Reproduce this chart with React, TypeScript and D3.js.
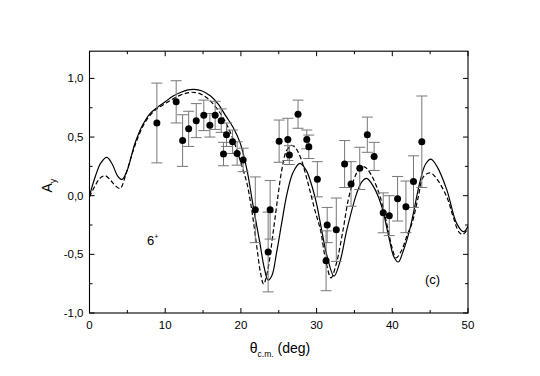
import * as d3 from "d3";
import React from "react";

// measured points
const angles = [8.9, 11.45, 12.3, 13.1, 14.1, 15.1, 15.9, 16.6, 17.4, 17.7, 18.1, 18.9, 19.5, 20.3, 21.9, 23.6, 23.86, 25.05, 26.2, 26.4, 27.55, 28.7, 28.97, 30.1, 31.25, 31.4, 32.6, 33.7, 34.55, 35.7, 36.7, 37.6, 38.8, 39.6, 40.7, 41.8, 42.8, 43.9];
const asym = [0.62, 0.8, 0.47, 0.57, 0.64, 0.685, 0.6, 0.685, 0.64, 0.355, 0.52, 0.46, 0.36, 0.305, -0.12, -0.48, -0.12, 0.465, 0.48, 0.346, 0.695, 0.48, 0.417, 0.14, -0.555, -0.25, -0.29, 0.27, 0.1, 0.233, 0.52, 0.335, -0.146, -0.17, -0.026, -0.095, 0.12, 0.46];
const errs = [0.34, 0.18, 0.22, 0.15, 0.145, 0.13, 0.1, 0.12, 0.1, 0.1, 0.1, 0.1, 0.1, 0.1, 0.28, 0.34, 0.25, 0.18, 0.18, 0.08, 0.12, 0.08, 0.1, 0.15, 0.255, 0.15, 0.27, 0.2, 0.19, 0.18, 0.15, 0.12, 0.17, 0.17, 0.19, 0.22, 0.22, 0.39];

// solid calculation
const solidX = [0, 0.8, 1.5, 2.3, 3.0, 3.7, 4.3, 5.0, 6.0, 7.0, 8.0, 9.0, 10, 11, 12, 13, 13.8, 14.8, 16, 17, 18, 19, 19.9, 20.8, 21.65, 22.5, 23.1, 23.6, 24.1, 24.7, 25.4, 26.1, 26.9, 27.8, 28.6, 29.3, 30.0, 30.6, 31.4, 32.3, 33.1, 34.0, 35.3, 36.0, 36.6, 37.5, 38.6, 39.6, 40.2, 40.8, 41.4, 42.3, 43.7, 44.4, 45.1, 45.9, 47.2, 48.5, 49.4, 50];
const solidY = [0.0, 0.17, 0.28, 0.326, 0.27, 0.17, 0.139, 0.22, 0.445, 0.6, 0.7, 0.755, 0.8, 0.848, 0.88, 0.902, 0.907, 0.895, 0.85, 0.78, 0.68, 0.58, 0.45, 0.22, -0.1, -0.4, -0.62, -0.72, -0.68, -0.49, -0.23, 0.02, 0.2, 0.275, 0.22, 0.1, -0.07, -0.27, -0.52, -0.685, -0.56, -0.29, 0.02, 0.12, 0.147, 0.08, -0.09, -0.37, -0.52, -0.565, -0.48, -0.29, 0.13, 0.27, 0.312, 0.25, 0.05, -0.236, -0.307, -0.26];

// dashed calculation
const dashX = [0, 0.7, 1.4, 2.07, 2.8, 3.5, 4.05, 4.8, 5.5, 6.3, 7.2, 8.2, 9, 10, 11, 12, 13, 13.6, 14.5, 15.5, 16.5, 17.6, 18.4, 19.2, 20.0, 20.8, 21.5, 22.1, 22.6, 23.0, 23.5, 24.3, 24.9, 25.4, 26.0, 26.7, 27.3, 28.0, 28.6, 29.1, 29.8, 30.5, 31.2, 31.9, 32.6, 33.5, 34.2, 34.9, 35.6, 36.3, 37.2, 38.4, 39.2, 40.0, 40.5, 41.2, 42.0, 42.6, 43.4, 44.1, 45.0, 45.8, 47.2, 48.0, 48.8, 49.3, 50];
const dashY = [-0.01, 0.08, 0.15, 0.17, 0.13, 0.08, 0.062, 0.18, 0.33, 0.48, 0.61, 0.7, 0.745, 0.785, 0.825, 0.857, 0.877, 0.882, 0.872, 0.835, 0.77, 0.67, 0.57, 0.44, 0.28, 0.105, -0.15, -0.435, -0.66, -0.753, -0.65, -0.293, 0.0, 0.218, 0.38, 0.43, 0.4, 0.303, 0.17, 0.048, -0.13, -0.29, -0.55, -0.7, -0.58, -0.29, -0.03, 0.133, 0.225, 0.246, 0.18, -0.01, -0.22, -0.45, -0.53, -0.47, -0.33, -0.236, -0.02, 0.161, 0.195, 0.15, -0.01, -0.17, -0.31, -0.33, -0.28];

const xMajor = [0, 10, 20, 30, 40, 50];
const xMinor = [5, 15, 25, 35, 45];
const yMajor = [-1.0, -0.5, 0.0, 0.5, 1.0];
const yMinor = [-0.75, -0.25, 0.25, 0.75];
const yTop = 1.232;

const W = 540;
const H = 376;
const font = "'Liberation Sans', Arial, sans-serif";

export default function App() {
  const x = d3.scaleLinear().domain([0, 50]).range([89.5, 468]);
  const y = d3.scaleLinear().domain([-1, 1]).range([313, 78.4]);

  const line = d3
    .line<[number, number]>()
    .x((d) => x(d[0]))
    .y((d) => y(d[1]))
    .curve(d3.curveCatmullRom);

  const solid = line(solidX.map((v, i) => [v, solidY[i]]));
  const dashed = line(dashX.map((v, i) => [v, dashY[i]]));

  const x0 = x(0), x1 = x(50), yb = y(-1), yt = y(yTop);
  const fmt = (v: number) => v.toFixed(1).replace(".", ",");

  return (
    <svg width={W} height={H} style={{ position: "absolute", left: 0, top: 0, background: "#fff" }} fontFamily={font}>
      <defs>
        <clipPath id="plot">
          <rect x={x0} y={yt} width={x1 - x0} height={yb - yt} />
        </clipPath>
      </defs>

      {/* curves */}
      <g clipPath="url(#plot)" fill="none" stroke="#000">
        <path d={solid ?? ""} strokeWidth={1.2} />
        <path d={dashed ?? ""} strokeWidth={1.2} strokeDasharray="4.5,2.5" />
      </g>

      {/* error bars */}
      <g stroke="#777" strokeWidth={1}>
        {angles.map((a, i) => (
          <g key={i}>
            <line x1={x(a)} x2={x(a)} y1={y(asym[i] + errs[i])} y2={y(asym[i] - errs[i])} />
            <line x1={x(a) - 5.5} x2={x(a) + 5.5} y1={y(asym[i] + errs[i])} y2={y(asym[i] + errs[i])} />
            <line x1={x(a) - 5.5} x2={x(a) + 5.5} y1={y(asym[i] - errs[i])} y2={y(asym[i] - errs[i])} />
          </g>
        ))}
      </g>
      <g fill="#000">
        {angles.map((a, i) => (
          <circle key={i} cx={x(a)} cy={y(asym[i])} r={3.5} />
        ))}
      </g>

      {/* frame & ticks */}
      <rect x={x0} y={yt} width={x1 - x0} height={yb - yt} fill="none" stroke="#000" strokeWidth={1.1} />
      <g stroke="#000" strokeWidth={1}>
        {xMajor.map((v) => (
          <g key={"xM" + v}>
            <line x1={x(v)} x2={x(v)} y1={yb} y2={yb - 5} />
            <line x1={x(v)} x2={x(v)} y1={yt} y2={yt + 5} />
          </g>
        ))}
        {xMinor.map((v) => (
          <g key={"xm" + v}>
            <line x1={x(v)} x2={x(v)} y1={yb} y2={yb - 3} />
            <line x1={x(v)} x2={x(v)} y1={yt} y2={yt + 3} />
          </g>
        ))}
        {yMajor.map((v) => (
          <g key={"yM" + v}>
            <line x1={x0} x2={x0 + 5} y1={y(v)} y2={y(v)} />
            <line x1={x1} x2={x1 - 5} y1={y(v)} y2={y(v)} />
          </g>
        ))}
        {yMinor.map((v) => (
          <g key={"ym" + v}>
            <line x1={x0} x2={x0 + 3} y1={y(v)} y2={y(v)} />
            <line x1={x1} x2={x1 - 3} y1={y(v)} y2={y(v)} />
          </g>
        ))}
      </g>

      {/* tick labels */}
      <g fontSize={11.5} fill="#000">
        {xMajor.map((v) => (
          <text key={"xl" + v} x={x(v)} y={yb + 16} textAnchor="middle">{v}</text>
        ))}
        {yMajor.map((v) => (
          <text key={"yl" + v} x={x0 - 6} y={y(v) + 4} textAnchor="end">{fmt(v)}</text>
        ))}
      </g>

      {/* axis titles */}
      <text x={280} y={353} textAnchor="middle" fontSize={14}>
        θ<tspan fontSize={8.5} dy={4}>c.m.</tspan>
        <tspan dy={-4}> (deg)</tspan>
      </text>
      <text transform={`translate(52, ${y(0) - 10}) rotate(-90)`} textAnchor="middle" fontSize={14}>
        A<tspan fontSize={9} dy={4}>y</tspan>
      </text>

      {/* annotations */}
      <text x={147} y={245} fontSize={13}>6<tspan fontSize={7} dy={-6}>+</tspan></text>
      <text x={425} y={284} fontSize={13}>(c)</text>
    </svg>
  );
}
